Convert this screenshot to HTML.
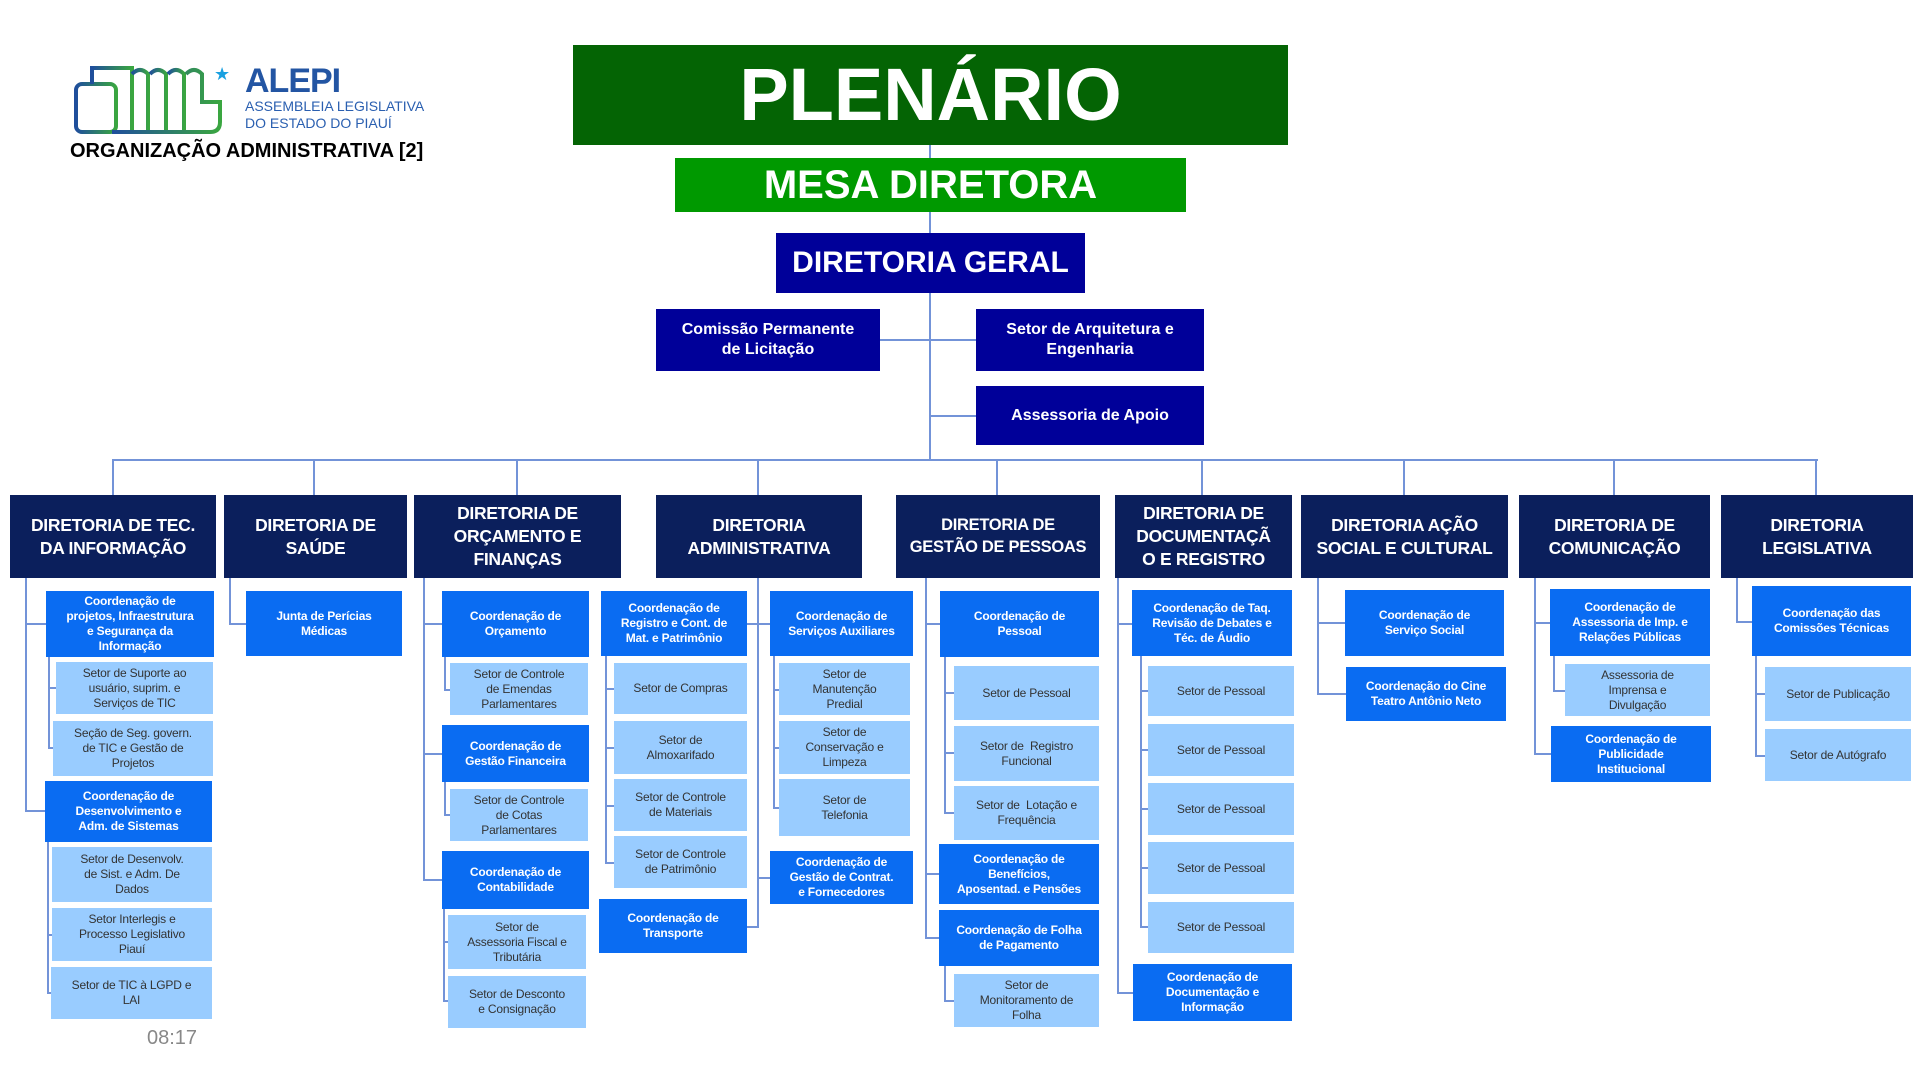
<!DOCTYPE html>
<html><head><meta charset="utf-8">
<style>
*{margin:0;padding:0;box-sizing:border-box}
body{width:1920px;height:1080px;background:#fff;position:relative;overflow:hidden;font-family:"Liberation Sans Narrow","Liberation Sans",sans-serif}
.b{position:absolute;display:flex;align-items:center;justify-content:center;text-align:center;white-space:nowrap;line-height:1.25}
.t{background:#000099;color:#fff;font-weight:bold}
.h{background:#0b1f5c;color:#fff;font-weight:bold;font-size:17.5px;line-height:1.3;letter-spacing:-0.3px}
.c{background:#0a6cf2;color:#fff;font-weight:bold;font-size:12px;letter-spacing:-0.2px}
.s{background:#99ccff;color:#333;font-size:12px;letter-spacing:-0.2px}
.l{position:absolute;background:#7393d8}
</style></head><body>

<svg style="position:absolute;left:72px;top:62px" width="170" height="74" viewBox="0 0 170 74">
<defs><linearGradient id="g" x1="0" x2="1"><stop offset="0" stop-color="#1f4e9c"/><stop offset="1" stop-color="#3aa640"/></linearGradient></defs>
<g fill="none" stroke="url(#g)" stroke-width="4">
<rect x="4" y="22" width="40" height="48" rx="6"/>
<path d="M20 22 V6 H60 V70"/>
<path d="M60 12 q8-8 16 0 V70"/>
<path d="M78 12 q8-8 16 0 V70"/>
<path d="M96 12 q8-8 16 0 V70"/>
<path d="M114 12 q8-8 16 0 V40 H148 V60 q0 10-10 10 H40"/>
</g>
<text x="142" y="18" fill="#19a0e0" font-size="18" font-family="DejaVu Sans">★</text>
</svg>
<div style="position:absolute;left:245px;top:62px;font:bold 34px 'Liberation Sans',sans-serif;color:#2355a3;letter-spacing:-1px">ALEPI</div>
<div style="position:absolute;left:245px;top:98px;font:14px 'Liberation Sans Narrow','Liberation Sans',sans-serif;color:#2a5fb0;line-height:1.2">ASSEMBLEIA LEGISLATIVA<br>DO ESTADO DO PIAUÍ</div>
<div style="position:absolute;left:70px;top:140px;font:bold 20px 'Liberation Sans Narrow','Liberation Sans',sans-serif;color:#000;white-space:nowrap">ORGANIZAÇÃO ADMINISTRATIVA [2]</div>
<div style="position:absolute;left:147px;top:1027px;font:20px 'Liberation Sans Narrow','Liberation Sans',sans-serif;color:#888">08:17</div>

<div class="l" style="left:929px;top:145px;width:2px;height:316px"></div>
<div class="l" style="left:880px;top:339px;width:96px;height:2px"></div>
<div class="l" style="left:930px;top:415px;width:46px;height:2px"></div>
<div class="l" style="left:112px;top:459px;width:1706px;height:2px"></div>
<div class="l" style="left:112px;top:460px;width:2px;height:35px"></div>
<div class="l" style="left:313px;top:460px;width:2px;height:35px"></div>
<div class="l" style="left:516px;top:460px;width:2px;height:35px"></div>
<div class="l" style="left:757px;top:460px;width:2px;height:35px"></div>
<div class="l" style="left:996px;top:460px;width:2px;height:35px"></div>
<div class="l" style="left:1201px;top:460px;width:2px;height:35px"></div>
<div class="l" style="left:1403px;top:460px;width:2px;height:35px"></div>
<div class="l" style="left:1613px;top:460px;width:2px;height:35px"></div>
<div class="l" style="left:1815px;top:460px;width:2px;height:35px"></div>

<div class="b" style="left:573px;top:45px;width:715px;height:100px;background:#046404;color:#fff;font-weight:bold;font-size:74px">PLENÁRIO</div>
<div class="b" style="left:675px;top:158px;width:511px;height:54px;background:#009900;color:#fff;font-weight:bold;font-size:40px">MESA DIRETORA</div>
<div class="b t" style="left:776px;top:233px;width:309px;height:60px;font-size:30px">DIRETORIA GERAL</div>
<div class="b t" style="left:656px;top:309px;width:224px;height:62px;font-size:16px">Comissão Permanente<br>de Licitação</div>
<div class="b t" style="left:976px;top:309px;width:228px;height:62px;font-size:16px">Setor de Arquitetura e<br>Engenharia</div>
<div class="b t" style="left:976px;top:386px;width:228px;height:59px;font-size:16px">Assessoria de Apoio</div>

<div class="b h" style="left:10px;top:495px;width:206px;height:83px">DIRETORIA DE TEC.<br>DA INFORMAÇÃO</div>
<div class="b h" style="left:224px;top:495px;width:183px;height:83px">DIRETORIA DE<br>SAÚDE</div>
<div class="b h" style="left:414px;top:495px;width:207px;height:83px">DIRETORIA DE<br>ORÇAMENTO E<br>FINANÇAS</div>
<div class="b h" style="left:656px;top:495px;width:206px;height:83px">DIRETORIA<br>ADMINISTRATIVA</div>
<div class="b h" style="left:896px;top:495px;width:204px;height:83px;font-size:16.5px">DIRETORIA DE<br>GESTÃO DE PESSOAS</div>
<div class="b h" style="left:1115px;top:495px;width:177px;height:83px">DIRETORIA DE<br>DOCUMENTAÇÃ<br>O E REGISTRO</div>
<div class="b h" style="left:1301px;top:495px;width:207px;height:83px">DIRETORIA AÇÃO<br>SOCIAL E CULTURAL</div>
<div class="b h" style="left:1519px;top:495px;width:191px;height:83px">DIRETORIA DE<br>COMUNICAÇÃO</div>
<div class="b h" style="left:1721px;top:495px;width:192px;height:83px">DIRETORIA<br>LEGISLATIVA</div>

<div class="l" style="left:25px;top:578px;width:2px;height:234px"></div>
<div class="l" style="left:25px;top:623px;width:21px;height:2px"></div>
<div class="l" style="left:25px;top:810px;width:20px;height:2px"></div>
<div class="l" style="left:48px;top:657px;width:2px;height:92px"></div>
<div class="l" style="left:48px;top:687px;width:8px;height:2px"></div>
<div class="l" style="left:48px;top:747px;width:5px;height:2px"></div>
<div class="l" style="left:47px;top:842px;width:2px;height:152px"></div>
<div class="l" style="left:47px;top:934px;width:5px;height:2px"></div>
<div class="l" style="left:47px;top:992px;width:5px;height:2px"></div>
<div class="b c" style="left:46px;top:591px;width:168px;height:66px">Coordenação de<br>projetos, Infraestrutura<br>e Segurança da<br>Informação</div>
<div class="b s" style="left:56px;top:662px;width:157px;height:52px">Setor de Suporte ao<br>usuário, suprim. e<br>Serviços de TIC</div>
<div class="b s" style="left:53px;top:721px;width:160px;height:55px">Seção de Seg. govern.<br>de TIC e Gestão de<br>Projetos</div>
<div class="b c" style="left:45px;top:781px;width:167px;height:61px">Coordenação de<br>Desenvolvimento e<br>Adm. de Sistemas</div>
<div class="b s" style="left:52px;top:847px;width:160px;height:55px">Setor de Desenvolv.<br>de Sist. e Adm. De<br>Dados</div>
<div class="b s" style="left:52px;top:908px;width:160px;height:53px">Setor Interlegis e<br>Processo Legislativo<br>Piauí</div>
<div class="b s" style="left:51px;top:967px;width:161px;height:52px">Setor de TIC à LGPD e<br>LAI</div>

<div class="l" style="left:229px;top:578px;width:2px;height:47px"></div>
<div class="l" style="left:229px;top:623px;width:17px;height:2px"></div>
<div class="b c" style="left:246px;top:591px;width:156px;height:65px">Junta de Perícias<br>Médicas</div>

<div class="l" style="left:423px;top:578px;width:2px;height:303px"></div>
<div class="l" style="left:423px;top:623px;width:19px;height:2px"></div>
<div class="l" style="left:423px;top:753px;width:19px;height:2px"></div>
<div class="l" style="left:423px;top:879px;width:19px;height:2px"></div>
<div class="l" style="left:444px;top:657px;width:2px;height:34px"></div>
<div class="l" style="left:444px;top:689px;width:6px;height:2px"></div>
<div class="l" style="left:444px;top:782px;width:2px;height:34px"></div>
<div class="l" style="left:444px;top:814px;width:6px;height:2px"></div>
<div class="l" style="left:443px;top:909px;width:2px;height:93px"></div>
<div class="l" style="left:443px;top:941px;width:5px;height:2px"></div>
<div class="l" style="left:443px;top:1000px;width:5px;height:2px"></div>
<div class="b c" style="left:442px;top:591px;width:147px;height:66px">Coordenação de<br>Orçamento</div>
<div class="b s" style="left:450px;top:663px;width:138px;height:52px">Setor de Controle<br>de Emendas<br>Parlamentares</div>
<div class="b c" style="left:442px;top:725px;width:147px;height:57px">Coordenação de<br>Gestão Financeira</div>
<div class="b s" style="left:450px;top:789px;width:138px;height:52px">Setor de Controle<br>de Cotas<br>Parlamentares</div>
<div class="b c" style="left:442px;top:851px;width:147px;height:58px">Coordenação de<br>Contabilidade</div>
<div class="b s" style="left:448px;top:915px;width:138px;height:54px">Setor de<br>Assessoria Fiscal e<br>Tributária</div>
<div class="b s" style="left:448px;top:976px;width:138px;height:52px">Setor de Desconto<br>e Consignação</div>

<div class="l" style="left:757px;top:578px;width:2px;height:350px"></div>
<div class="l" style="left:747px;top:623px;width:23px;height:2px"></div>
<div class="l" style="left:747px;top:926px;width:11px;height:2px"></div>
<div class="l" style="left:757px;top:877px;width:13px;height:2px"></div>
<div class="l" style="left:605px;top:656px;width:2px;height:208px"></div>
<div class="l" style="left:605px;top:688px;width:9px;height:2px"></div>
<div class="l" style="left:605px;top:747px;width:9px;height:2px"></div>
<div class="l" style="left:605px;top:805px;width:9px;height:2px"></div>
<div class="l" style="left:605px;top:862px;width:9px;height:2px"></div>
<div class="l" style="left:773px;top:656px;width:2px;height:153px"></div>
<div class="l" style="left:773px;top:689px;width:6px;height:2px"></div>
<div class="l" style="left:773px;top:747px;width:6px;height:2px"></div>
<div class="l" style="left:773px;top:807px;width:6px;height:2px"></div>
<div class="b c" style="left:601px;top:591px;width:146px;height:65px">Coordenação de<br>Registro e Cont. de<br>Mat. e Patrimônio</div>
<div class="b s" style="left:614px;top:663px;width:133px;height:51px">Setor de Compras</div>
<div class="b s" style="left:614px;top:721px;width:133px;height:53px">Setor de<br>Almoxarifado</div>
<div class="b s" style="left:614px;top:779px;width:133px;height:52px">Setor de Controle<br>de Materiais</div>
<div class="b s" style="left:614px;top:836px;width:133px;height:52px">Setor de Controle<br>de Patrimônio</div>
<div class="b c" style="left:599px;top:899px;width:148px;height:54px">Coordenação de<br>Transporte</div>
<div class="b c" style="left:770px;top:591px;width:143px;height:65px">Coordenação de<br>Serviços Auxiliares</div>
<div class="b s" style="left:779px;top:663px;width:131px;height:52px">Setor de<br>Manutenção<br>Predial</div>
<div class="b s" style="left:779px;top:721px;width:131px;height:53px">Setor de<br>Conservação e<br>Limpeza</div>
<div class="b s" style="left:779px;top:779px;width:131px;height:57px">Setor de<br>Telefonia</div>
<div class="b c" style="left:770px;top:851px;width:143px;height:53px">Coordenação de<br>Gestão de Contrat.<br>e Fornecedores</div>

<div class="l" style="left:925px;top:578px;width:2px;height:361px"></div>
<div class="l" style="left:925px;top:623px;width:15px;height:2px"></div>
<div class="l" style="left:925px;top:873px;width:14px;height:2px"></div>
<div class="l" style="left:925px;top:937px;width:14px;height:2px"></div>
<div class="l" style="left:944px;top:657px;width:2px;height:157px"></div>
<div class="l" style="left:944px;top:692px;width:10px;height:2px"></div>
<div class="l" style="left:944px;top:752px;width:10px;height:2px"></div>
<div class="l" style="left:944px;top:812px;width:10px;height:2px"></div>
<div class="l" style="left:944px;top:966px;width:2px;height:36px"></div>
<div class="l" style="left:944px;top:1000px;width:10px;height:2px"></div>
<div class="b c" style="left:940px;top:591px;width:159px;height:66px">Coordenação de<br>Pessoal</div>
<div class="b s" style="left:954px;top:666px;width:145px;height:54px">Setor de Pessoal</div>
<div class="b s" style="left:954px;top:726px;width:145px;height:55px">Setor de&nbsp; Registro<br>Funcional</div>
<div class="b s" style="left:954px;top:786px;width:145px;height:54px">Setor de&nbsp; Lotação e<br>Frequência</div>
<div class="b c" style="left:939px;top:844px;width:160px;height:60px">Coordenação de<br>Benefícios,<br>Aposentad. e Pensões</div>
<div class="b c" style="left:939px;top:910px;width:160px;height:56px">Coordenação de Folha<br>de Pagamento</div>
<div class="b s" style="left:954px;top:974px;width:145px;height:53px">Setor de<br>Monitoramento de<br>Folha</div>

<div class="l" style="left:1117px;top:578px;width:2px;height:416px"></div>
<div class="l" style="left:1117px;top:623px;width:15px;height:2px"></div>
<div class="l" style="left:1117px;top:992px;width:16px;height:2px"></div>
<div class="l" style="left:1140px;top:656px;width:2px;height:272px"></div>
<div class="l" style="left:1140px;top:690px;width:8px;height:2px"></div>
<div class="l" style="left:1140px;top:749px;width:8px;height:2px"></div>
<div class="l" style="left:1140px;top:808px;width:8px;height:2px"></div>
<div class="l" style="left:1140px;top:867px;width:8px;height:2px"></div>
<div class="l" style="left:1140px;top:926px;width:8px;height:2px"></div>
<div class="b c" style="left:1132px;top:590px;width:160px;height:66px">Coordenação de Taq.<br>Revisão de Debates e<br>Téc. de Áudio</div>
<div class="b s" style="left:1148px;top:666px;width:146px;height:50px">Setor de Pessoal</div>
<div class="b s" style="left:1148px;top:724px;width:146px;height:52px">Setor de Pessoal</div>
<div class="b s" style="left:1148px;top:783px;width:146px;height:52px">Setor de Pessoal</div>
<div class="b s" style="left:1148px;top:842px;width:146px;height:52px">Setor de Pessoal</div>
<div class="b s" style="left:1148px;top:902px;width:146px;height:51px">Setor de Pessoal</div>
<div class="b c" style="left:1133px;top:964px;width:159px;height:57px">Coordenação de<br>Documentação e<br>Informação</div>

<div class="l" style="left:1317px;top:578px;width:2px;height:117px"></div>
<div class="l" style="left:1317px;top:622px;width:28px;height:2px"></div>
<div class="l" style="left:1317px;top:693px;width:29px;height:2px"></div>
<div class="b c" style="left:1345px;top:590px;width:159px;height:66px">Coordenação de<br>Serviço Social</div>
<div class="b c" style="left:1346px;top:667px;width:160px;height:54px">Coordenação do Cine<br>Teatro Antônio Neto</div>

<div class="l" style="left:1534px;top:578px;width:2px;height:177px"></div>
<div class="l" style="left:1534px;top:622px;width:16px;height:2px"></div>
<div class="l" style="left:1534px;top:753px;width:17px;height:2px"></div>
<div class="l" style="left:1553px;top:656px;width:2px;height:36px"></div>
<div class="l" style="left:1553px;top:690px;width:12px;height:2px"></div>
<div class="b c" style="left:1550px;top:589px;width:160px;height:67px">Coordenação de<br>Assessoria de Imp. e<br>Relações Públicas</div>
<div class="b s" style="left:1565px;top:664px;width:145px;height:52px">Assessoria de<br>Imprensa e<br>Divulgação</div>
<div class="b c" style="left:1551px;top:726px;width:160px;height:56px">Coordenação de<br>Publicidade<br>Institucional</div>

<div class="l" style="left:1736px;top:578px;width:2px;height:45px"></div>
<div class="l" style="left:1736px;top:621px;width:16px;height:2px"></div>
<div class="l" style="left:1755px;top:656px;width:2px;height:101px"></div>
<div class="l" style="left:1755px;top:693px;width:10px;height:2px"></div>
<div class="l" style="left:1755px;top:755px;width:10px;height:2px"></div>
<div class="b c" style="left:1752px;top:586px;width:159px;height:70px">Coordenação das<br>Comissões Técnicas</div>
<div class="b s" style="left:1765px;top:667px;width:146px;height:54px">Setor de Publicação</div>
<div class="b s" style="left:1765px;top:729px;width:146px;height:52px">Setor de Autógrafo</div>

</body></html>
